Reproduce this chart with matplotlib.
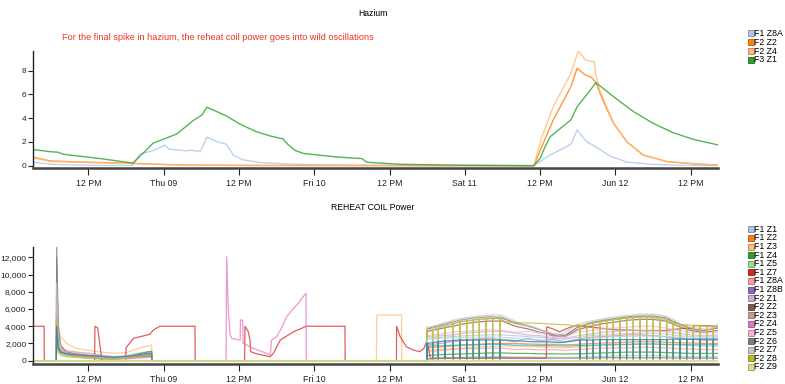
import numpy as np
import pandas as pd
import matplotlib
matplotlib.use('Agg')
import matplotlib.pyplot as plt
from matplotlib.patches import Rectangle
from matplotlib.colors import to_rgb

plt.rcParams['font.family'] = ['Liberation Sans', 'DejaVu Sans']

# time is in hours since 2016-06-08 00:00
base = pd.Timestamp('2016-06-08 00:00')
t_start, t_end = 3.23, 112.4
tick_h = [12, 24, 36, 48, 60, 72, 84, 96, 108]
tick_lbl = ['12 PM', 'Thu 09', '12 PM', 'Fri 10', '12 PM', 'Sat 11', '12 PM', 'Jun 12', '12 PM']

# ---------------- Hazium ----------------
top_names = ['F1 Z8A', 'F2 Z2', 'F2 Z4', 'F3 Z1']
top_colors = ['#aec7e8', '#ff7f0e', '#ffbb78', '#2ca02c']

hz_z8a_h = [3.23, 5.9, 8.0, 13.9, 19.1, 20.2, 22.3, 24.2, 24.9, 26.5, 27.5, 28.4, 29.3, 29.9, 30.9, 32.5,
            34.0, 35.1, 36.7, 39.8, 44.1, 48.9, 61.0, 83.0, 85.6, 88.9, 89.9, 91.4, 93.0, 95.1, 97.8,
            101.5, 106.0, 112.4]
hz_z8a_v = [0.3, 0.12, 0.08, 0.02, 0.02, 0.99, 1.26, 1.74, 1.38, 1.32, 1.25, 1.3, 1.22, 1.25, 2.4, 2.02,
            1.8, 0.9, 0.48, 0.25, 0.14, 0.06, 0.02, 0.0, 0.9, 1.8, 3.0, 2.02, 1.55, 0.82, 0.31,
            0.12, 0.03, 0.02]

hz_f2z2_h = [3.23, 5.9, 10.7, 18.6, 26.6, 37.8, 83.0, 84.5, 86.1, 88.9, 89.9, 91.2, 92.2, 92.9, 94.1,
             95.7, 97.8, 100.4, 104.2, 109.5, 112.4]
hz_f2z2_v = [0.71, 0.4, 0.31, 0.2, 0.06, 0.02, 0.0, 1.89, 3.85, 6.65, 8.2, 7.64, 7.44, 6.99, 5.39,
             3.57, 2.02, 0.9, 0.34, 0.12, 0.06]

hz_f2z4_h = [3.23, 5.9, 10.7, 18.6, 26.6, 37.8, 83.0, 84.3, 86.1, 88.9, 90.1, 91.2, 92.2, 92.6, 92.9,
             93.5, 95.7, 97.8, 100.4, 104.2, 109.5, 112.4]
hz_f2z4_v = [0.65, 0.36, 0.28, 0.18, 0.05, 0.02, 0.0, 2.44, 4.97, 7.78, 9.68, 8.9, 8.76, 8.8, 7.6,
             6.37, 3.6, 2.05, 0.92, 0.35, 0.12, 0.06]

hz_f3z1_h = [3.23, 5.9, 7.2, 8.0, 13.9, 19.1, 20.7, 22.3, 23.9, 26.1, 28.7, 30.1, 30.9, 32.5, 34.0,
             36.2, 38.8, 41.0, 42.6, 43.0, 43.6, 44.9, 46.2, 51.0, 54.8, 55.6, 56.4, 61.7, 69.6, 83.0,
             84.0, 84.8, 85.6, 88.9, 89.9, 91.4, 92.9, 95.7, 98.9, 102.0, 105.2, 108.4, 112.4]
hz_f3z1_v = [1.36, 1.18, 1.13, 0.96, 0.6, 0.22, 1.04, 1.89, 2.22, 2.67, 3.79, 4.27, 4.92, 4.55, 4.19,
             3.49, 2.86, 2.5, 2.3, 2.28, 1.89, 1.3, 1.04, 0.76, 0.62, 0.6, 0.29, 0.12, 0.05, 0.0,
             0.62, 1.6, 2.44, 3.85, 4.97, 5.95, 6.99, 5.81, 4.55, 3.57, 2.78, 2.22, 1.74]

# ---------------- REHEAT COIL Power ----------------
bot_names = ['F1 Z1', 'F1 Z2', 'F1 Z3', 'F1 Z4', 'F1 Z5', 'F1 Z7', 'F1 Z8A', 'F1 Z8B', 'F2 Z1',
             'F2 Z2', 'F2 Z3', 'F2 Z4', 'F2 Z5', 'F2 Z6', 'F2 Z7', 'F2 Z8', 'F2 Z9']
bot_colors = ['#aec7e8', '#ff7f0e', '#ffbb78', '#2ca02c', '#98df8a', '#d62728', '#ff9896', '#9467bd',
              '#c5b0d5', '#8c564b', '#c49c94', '#e377c2', '#f7b6d2', '#7f7f7f', '#c7c7c7', '#bcbd22',
              '#dbdb8d']

# Wednesday morning spike and decay
clu_h = [6.9, 6.96, 7.2, 7.6, 8.5, 10, 12, 14, 16, 18, 20, 22.1]
f1z1_clu = [0, 5000, 2000, 1400, 1100, 1000, 900, 700, 500, 600, 900, 1100]
f1z2_clu = [0, 3000, 1000, 700, 500, 400, 300, 200, 150, 300, 500, 700]
f1z3_clu = [0, 9700, 4300, 2800, 2000, 1440, 1200, 1000, 860, 930, 1440, 1820]
f1z4_clu = [0, 4000, 1500, 900, 700, 600, 400, 300, 200, 400, 800, 1100]
f1z5_clu = [0, 3000, 1000, 600, 500, 400, 300, 200, 100, 300, 600, 900]
f1z8a_clu = [0, 6000, 2500, 1600, 1200, 1000, 800, 600, 400, 500, 700, 800]
f1z8b_clu = [0, 12000, 3000, 1200, 800, 600, 500, 400, 300, 300, 400, 500]
f2z1_clu = [0, 7000, 2000, 1000, 700, 500, 400, 300, 200, 200, 300, 400]
f2z2_clu = [0, 8000, 2200, 1300, 900, 700, 600, 500, 300, 400, 500, 600]
f2z3_clu = [0, 7500, 2000, 1200, 800, 600, 500, 400, 300, 300, 400, 500]
f2z4_clu = [0, 11000, 3000, 1500, 900, 700, 500, 300, 200, 300, 500, 600]
f2z5_clu = [0, 6500, 2500, 1500, 1000, 800, 600, 400, 300, 400, 600, 800]
f2z6_clu = [0, 13200, 4000, 1800, 1000, 800, 600, 500, 400, 500, 600, 700]
f2z7_clu = [0, 9000, 2500, 1300, 900, 700, 600, 500, 400, 500, 700, 900]
f2z8_clu = [0, 5000, 1800, 1000, 700, 500, 400, 300, 200, 300, 500, 700]
blue_clu = [0, 4000, 1500, 1000, 800, 700, 600, 500, 400, 500, 700, 900]

# single events in the middle of the period
f1z7_h = [3.23, 4.95, 4.98, 13.0, 13.06, 13.5, 13.9, 14.2, 17.95, 18.0, 19.2, 21.8, 22.35, 23.42,
          29.0, 29.03, 36.9, 36.97, 37.5, 37.76, 37.87, 38.8, 41.0, 41.5, 42.6, 44.7, 46.0, 46.7,
          52.9, 52.93, 61.1, 61.14, 61.7, 62.7, 63.8, 64.8, 65.5, 66.0, 66.5, 76.0, 85.0, 85.05,
          86.0, 87.1, 88.5, 89.8, 92.0, 96.0, 100.0, 104.0, 106.0, 108.5, 108.6, 112.4]
f1z7_v = [4000, 4000, 0, 0, 4000, 3800, 1500, 0, 0, 1500, 2600, 3060, 3560, 4000,
          4000, 0, 0, 4000, 3360, 2400, 1050, 800, 465, 860, 2400, 3360, 3760, 4000,
          4000, 0, 0, 4000, 2780, 1620, 1240, 1050, 1440, 2400, 300, 300, 300, 3940,
          3700, 3360, 3800, 4100, 3900, 3600, 3500, 3500, 3700, 3800, 4100, 4000]
f2z4_thu_h = [33.95, 34.05, 34.3, 34.6, 34.85, 36.2, 36.25, 36.6, 36.65, 38.3, 40.4, 41.0, 41.2,
              42.0, 42.8, 43.6, 44.7, 45.7, 46.0, 46.7]
f2z4_thu_v = [0, 12060, 6000, 3000, 2600, 2400, 4720, 4720, 2020, 1440, 860, 660, 2400,
              2780, 3800, 5100, 6080, 6850, 7240, 7820]
f1z3_fri_h = [57.92, 57.96, 61.92, 61.94]
f1z3_fri_v = [0, 5300, 5300, 0]

# Saturday / Sunday oscillations
reg_h = [66, 68, 70, 72, 74, 76, 78, 80, 82, 84, 86, 88, 90, 92, 94, 96, 98, 100, 102, 104, 106,
         108, 110, 112.4]
f1z1_reg = [2600, 2700, 2800, 2900, 2950, 3000, 3000, 2900, 2800, 2700, 2600, 2500, 2700, 2900, 3000,
            3100, 3150, 3200, 3200, 3100, 2900, 2800, 2750, 2800]
f1z2_reg = [1500, 1600, 1700, 1800, 1900, 2000, 2000, 2000, 1950, 1900, 1900, 1850, 1900, 2000, 2050,
            2100, 2150, 2200, 2200, 2150, 2100, 2050, 2000, 2000]
f1z3_reg = [1200, 1300, 1400, 1500, 1600, 1650, 1700, 1700, 1650, 1600, 1550, 1500, 1600, 1700, 1750,
            1800, 1850, 1900, 1900, 1850, 1800, 1750, 1700, 1700]
f1z4_reg = [600, 700, 750, 800, 850, 900, 900, 850, 850, 800, 800, 780, 800, 850, 900, 950, 1000,
            1000, 1000, 950, 900, 850, 850, 850]
f1z5_reg = [200, 300, 350, 400, 450, 500, 500, 450, 450, 400, 400, 380, 400, 450, 500, 550, 600,
            600, 600, 550, 500, 450, 450, 450]
f1z8a_reg = [1000, 1200, 1300, 1400, 1400, 1450, 1450, 1300, 1350, 1250, 1300, 1200, 1300, 1400, 1450,
             1500, 1500, 1550, 1550, 1500, 1400, 1350, 1300, 1300]
f1z8b_reg = [200, 250, 300, 300, 300, 350, 350, 300, 300, 300, 300, 300, 300, 300, 350, 350, 350,
             350, 350, 350, 300, 300, 300, 300]
f2z1_reg = [2800, 2900, 3000, 3200, 3300, 3400, 3400, 3200, 3000, 2900, 2700, 2600, 2900, 3100, 3300,
            3400, 3500, 3500, 3500, 3400, 3200, 3000, 2900, 3000]
f2z2_reg = [3400, 3700, 4000, 4300, 4500, 4600, 4600, 4000, 3700, 3300, 2900, 2800, 3600, 4000, 4300,
            4500, 4700, 4800, 4800, 4600, 4000, 3500, 3300, 3500]
f2z3_reg = [3700, 4000, 4300, 4600, 4800, 4900, 4900, 4300, 4000, 3600, 3100, 3000, 3900, 4300, 4600,
            4800, 5000, 5100, 5100, 4900, 4300, 3700, 3500, 3800]
f2z4_reg = [1800, 2000, 2200, 2400, 2500, 2600, 2400, 2200, 2600, 2300, 2500, 2200, 2500, 2700, 2800,
            2900, 3000, 3000, 2900, 2800, 2600, 2500, 2400, 2400]
f2z5_reg = [2900, 3100, 3300, 3400, 3500, 3600, 3500, 3300, 3400, 3200, 3000, 2800, 3300, 3500, 3700,
            3800, 3900, 4000, 4000, 3800, 3500, 3300, 3200, 3300]
f2z6_reg = [3700, 4100, 4500, 4800, 5000, 5100, 5000, 4400, 4100, 3600, 3000, 2900, 3900, 4400, 4700,
            4900, 5100, 5200, 5200, 5000, 4300, 3700, 3500, 3800]
cyan_reg = [1700, 1750, 1800, 1850, 1850, 1900, 1900, 1800, 1800, 1750, 1750, 1700, 1750, 1800, 1850,
            1900, 1900, 1950, 1950, 1900, 1900, 1850, 1850, 1850]
ltcyan_reg = [2500, 2600, 2650, 2700, 2700, 2750, 2700, 2600, 2500, 2400, 2300, 2200, 2400, 2600, 2700,
              2800, 2800, 2850, 2850, 2800, 2700, 2600, 2600, 2600]

# switching times (sw=1) of the cycling zones, with the quiet stretch on Saturday
wave_h = [66.0, 66.88, 67.77, 68.84, 70.16, 71.23, 72.3, 73.35, 74.31, 75.37, 76.44, 77.6,
          78.5, 80.8, 83.0, 85.0, 87.1, 88.5, 89.8,
          90.35, 91.42, 92.47, 93.54, 94.61, 95.66, 96.72, 97.79, 98.85, 99.91, 100.98, 102.03,
          103.1, 104.17, 105.22, 106.29, 107.36, 108.41, 109.48, 110.55, 111.6, 112.4]
wave_sw = [1] * 12 + [0] * 7 + [1] * 21 + [0]
f2z7_wave = [3900, 4000, 4200, 4400, 4700, 4900, 5000, 5100, 5200, 5250, 5300, 5300,
             5100, 4340, 3900, 3360, 2980, 3500, 4200,
             4300, 4500, 4650, 4800, 4950, 5050, 5150, 5250, 5300, 5400, 5420, 5400, 5300, 5150,
             4800, 4300, 4000, 3850, 3750, 3650, 3700, 4300]
f2z8_wave = [3500, 3600, 3800, 4000, 4300, 4500, 4600, 4700, 4800, 4850, 4900, 4900,
             4500, 4400, 4350, 4300, 4200, 4150, 4000,
             4000, 4200, 4400, 4500, 4650, 4750, 4850, 4950, 5000, 5050, 5050, 5000, 4900, 4700,
             4400, 4200, 4150, 4100, 4050, 4000, 3900, 3900]
blue_wave = [2000, 2100, 2200, 2300, 2350, 2400, 2400, 2400, 2400, 2400, 2400, 2400,
             2400, 2300, 2200, 2200, 2100, 2200, 2350,
             2400, 2400, 2400, 2450, 2450, 2450, 2450, 2450, 2450, 2450, 2450, 2450, 2450, 2450,
             2500, 2500, 2500, 2500, 2500, 2500, 2500, 2500]


def join(*segs):
    hh, vv = [t_start], [0]
    for sh, sv in segs:
        if sh[0] > hh[-1] + 0.06:
            hh += [hh[-1] + 0.03, sh[0] - 0.03]
            vv += [0, 0]
        hh += list(sh)
        vv += list(sv)
    if hh[-1] < t_end:
        hh += [hh[-1] + 0.03, t_end]
        vv += [0, 0]
    return hh, vv


def wave(levels, low):
    hh, vv = [], []
    for t, s, lv in zip(wave_h, wave_sw, levels):
        if s:
            hh += [t, t, t]
            vv += [lv, low, lv]
        else:
            hh.append(t)
            vv.append(lv)
    return hh, vv


series = {
    'F1 Z1': join((clu_h, f1z1_clu), (reg_h, f1z1_reg)),
    'F1 Z2': join((clu_h, f1z2_clu), (reg_h, f1z2_reg)),
    'F1 Z3': join((clu_h, f1z3_clu), (f1z3_fri_h, f1z3_fri_v), (reg_h, f1z3_reg)),
    'F1 Z4': join((clu_h, f1z4_clu), (reg_h, f1z4_reg)),
    'F1 Z5': join((clu_h, f1z5_clu), (reg_h, f1z5_reg)),
    'F1 Z7': (f1z7_h, f1z7_v),
    'F1 Z8A': join((clu_h, f1z8a_clu), (reg_h, f1z8a_reg)),
    'F1 Z8B': join((clu_h, f1z8b_clu), (reg_h, f1z8b_reg)),
    'F2 Z1': join((clu_h, f2z1_clu), (reg_h, f2z1_reg)),
    'F2 Z2': join((clu_h, f2z2_clu), (reg_h, f2z2_reg)),
    'F2 Z3': join((clu_h, f2z3_clu), (reg_h, f2z3_reg)),
    'F2 Z4': join((clu_h, f2z4_clu), (f2z4_thu_h, f2z4_thu_v), (reg_h, f2z4_reg)),
    'F2 Z5': join((clu_h, f2z5_clu), (reg_h, f2z5_reg)),
    'F2 Z6': join((clu_h, f2z6_clu), (reg_h, f2z6_reg)),
    'F2 Z7': join((clu_h, f2z7_clu), wave(f2z7_wave, 0)),
    'F2 Z8': join((clu_h, f2z8_clu), wave(f2z8_wave, 0)),
    'F2 Z9': ([t_start, t_end], [0, 0]),
}
extra = [
    ('#17becf', join((reg_h, cyan_reg))),
    ('#9edae5', join((reg_h, ltcyan_reg))),
    ('#1f77b4', join((clu_h, blue_clu), wave(blue_wave, 300))),
]


def dt(h):
    return base + pd.to_timedelta(np.asarray(h, dtype=float), unit='h')


fig = plt.figure(figsize=(7.85, 3.84), dpi=100)
W, H = 785.0, 384.0
ax1 = fig.add_axes([33.3 / W, 1 - 168.3 / H, 685 / W, 117.6 / H])
ax2 = fig.add_axes([33.3 / W, 1 - 364.0 / H, 685 / W, 117.3 / H])

for nm, c, (h, v) in zip(top_names, top_colors,
                         [(hz_z8a_h, hz_z8a_v), (hz_f2z2_h, hz_f2z2_v),
                          (hz_f2z4_h, hz_f2z4_v), (hz_f3z1_h, hz_f3z1_v)]):
    ax1.plot(dt(h), v, color=c, lw=1.0, alpha=0.8)

for nm, c in zip(bot_names[:-1], bot_colors[:-1]):
    h, v = series[nm]
    ax2.plot(dt(h), v, color=c, lw=0.9, alpha=0.75)
for c, (h, v) in extra:
    ax2.plot(dt(h), v, color=c, lw=0.9, alpha=0.75)
h, v = series['F2 Z9']
ax2.plot(dt(h), v, color=bot_colors[-1], lw=1.6, alpha=0.9)

ax1.set_ylim(-0.22, 9.68)
ax1.set_yticks([0, 2, 4, 6, 8])
ax2.set_ylim(-380, 13230)
ax2.set_yticks([0, 2000, 4000, 6000, 8000, 10000, 12000])
ax2.set_yticklabels(['0', '2,000', '4,000', '6,000', '8,000', '10,000', '12,000'])

for ax in (ax1, ax2):
    ax.set_xlim(dt([t_start])[0], dt([t_end])[0])
    ax.set_xticks(dt(tick_h))
    ax.set_xticklabels(tick_lbl)
    for s in ('top', 'right'):
        ax.spines[s].set_visible(False)
    ax.spines['left'].set_linewidth(1.0)
    ax.spines['left'].set_color('#222222')
    ax.spines['bottom'].set_linewidth(1.8)
    ax.spines['bottom'].set_color('#444444')
    ax.tick_params(axis='x', length=5, width=0.8, labelsize=6.3, pad=3, colors='#222222')
    ax.tick_params(axis='y', length=3.5, width=0.8, labelsize=6, pad=1.5, colors='#222222')
    ax.patch.set_alpha(0)

fig.text(373 / W, 1 - 13 / H, 'Hazium', ha='center', va='center', fontsize=6.2)
fig.text(373 / W, 1 - 208 / H, 'REHEAT COIL Power', ha='center', va='center', fontsize=6.2)
fig.text(218 / W, 1 - 38 / H,
         'For the final spike in hazium, the reheat coil power goes into wild oscillations',
         ha='center', va='center', fontsize=6.6, color='#ee3322')


def legend(names, colors, y0, step):
    for i, (nm, c) in enumerate(zip(names, colors)):
        y = y0 + i * step
        edge = tuple(0.7 * x for x in to_rgb(c))
        fig.add_artist(Rectangle((748 / W, 1 - (y + 3) / H), 5.5 / W, 6 / H,
                                 transform=fig.transFigure, facecolor=c, edgecolor=edge, lw=0.6))
        fig.text(754.5 / W, 1 - y / H, nm, ha='left', va='center', fontsize=6.3)


legend(top_names, top_colors, 33.3, 8.9)
legend(bot_names, bot_colors, 229.3, 8.6)

fig.savefig('out.png', dpi=100)
